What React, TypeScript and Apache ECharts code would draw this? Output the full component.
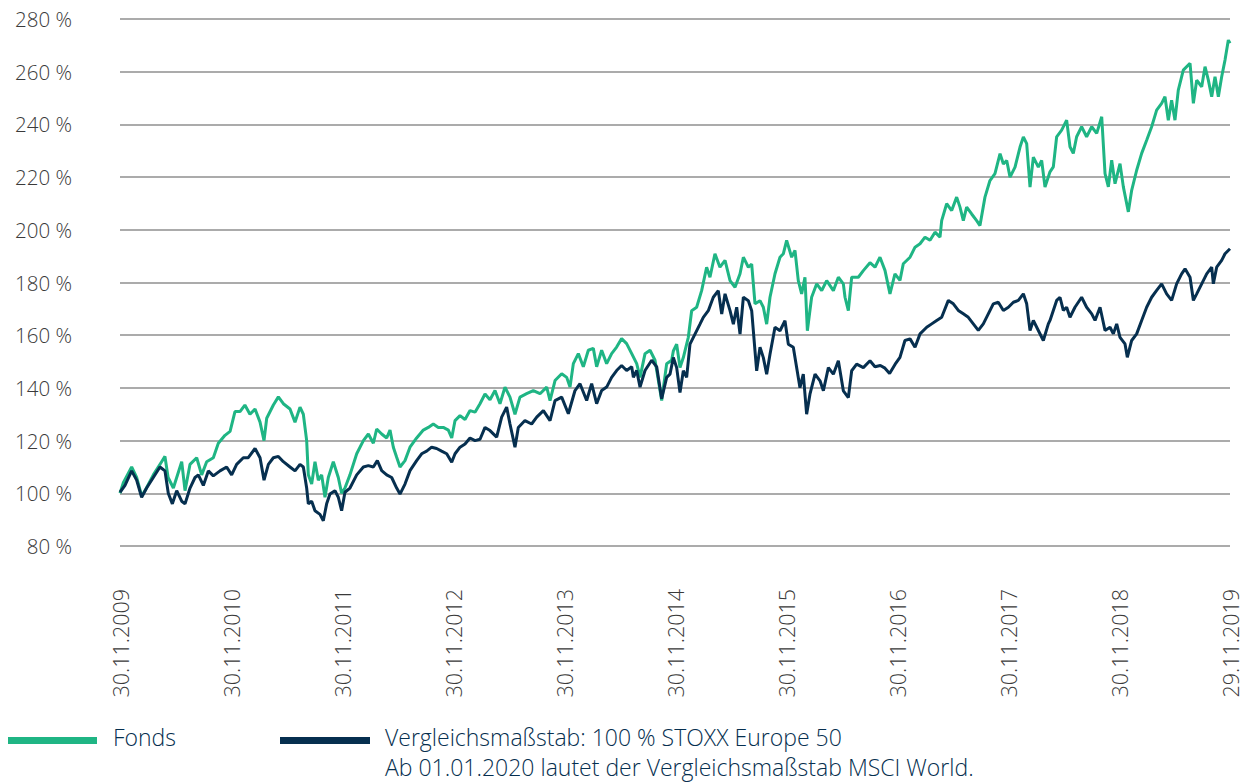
import React, { useEffect, useRef } from "react";
import * as echarts from "echarts";

// x = months since 30.11.2009, y = indexed value in %
const fondsData: [number, number][] = [
  [0, 100], [0.36, 104], [1.26, 110], [1.8, 106], [2.34, 99], [2.7, 101], [3.6, 107], [4.5, 112],
  [4.86, 114], [5.2, 106], [5.77, 102], [6.67, 112], [7.03, 101], [7.57, 111], [8.29, 113.5],
  [8.83, 107], [9.37, 112], [10.09, 113.5], [10.63, 119], [11.35, 122], [11.9, 123.5], [12.43, 131],
  [12.97, 131], [13.5, 133.5], [14.05, 130], [14.6, 132], [15.14, 127], [15.57, 120], [15.86, 128.5],
  [16.58, 133.5], [17.12, 136.6], [17.66, 134], [18.38, 132], [18.92, 127], [19.46, 132.7],
  [19.82, 130], [20.18, 120], [20.36, 107], [20.72, 103.5], [21.08, 112], [21.44, 105], [21.8, 107],
  [22.16, 98.5], [22.52, 106], [23.06, 112], [23.6, 106], [23.96, 100], [24.32, 102], [24.86, 107],
  [25.59, 115], [26.31, 120], [26.85, 122.5], [27.39, 119], [27.75, 124.4], [28.29, 122.5],
  [28.83, 121], [29.19, 124], [29.55, 117.5], [29.91, 113.7], [30.27, 110], [30.81, 112.4],
  [31.35, 117.5], [32.07, 121], [32.79, 124], [33.33, 125], [33.87, 126.3], [34.41, 125],
  [34.95, 125], [35.5, 124], [35.86, 121], [36.22, 127.6], [36.76, 129.5], [37.3, 128],
  [37.84, 131.4], [38.38, 130.8], [38.92, 134], [39.46, 137.7], [40, 135.5], [40.54, 139],
  [41.08, 134], [41.62, 140.3], [42.16, 136.5], [42.7, 130], [43.24, 136.5], [43.96, 137.8],
  [44.68, 139], [45.41, 137.8], [46.13, 140.3], [46.49, 135.2], [47.03, 142.8], [47.75, 145.4],
  [48.29, 144], [48.65, 140.3], [49.01, 149.2], [49.55, 153], [50.09, 148], [50.63, 154.3],
  [51.17, 155], [51.53, 148], [52.07, 154.3], [52.61, 149.2], [53.15, 153], [53.69, 155.5],
  [54.23, 158.7], [54.77, 156.8], [55.32, 153], [55.86, 149.2], [56.22, 144], [56.76, 153],
  [57.3, 154.3], [57.84, 150.5], [58.56, 135.2], [59.1, 149.2], [59.64, 150.5], [59.82, 154],
  [60.18, 156.6], [60.54, 147.7], [60.9, 151.5], [61.44, 159.2], [61.8, 169.3], [62.34, 170.6],
  [62.88, 176.9], [63.42, 185.8], [63.78, 182], [64.32, 190.9], [64.86, 185.8], [65.41, 188.4],
  [65.95, 180.7], [66.49, 178.2], [67.03, 183.3], [67.39, 189.6], [67.93, 185.8], [68.29, 187],
  [68.65, 171.9], [69.19, 173.1], [69.55, 170.6], [69.91, 164.2], [70.27, 174.4], [70.81, 183.3],
  [71.35, 189.6], [71.71, 190.9], [72.07, 196], [72.61, 189.6], [72.97, 192.2], [73.33, 180.7],
  [73.69, 175.7], [74.05, 182], [74.31, 161.7], [74.77, 174.4], [75.32, 179.5], [75.86, 176.9],
  [76.4, 180.7], [77.12, 176.9], [77.66, 182], [78.2, 179.5], [78.38, 174.4], [78.74, 169.3],
  [79.1, 182], [79.82, 182], [80.36, 184.5], [81.08, 187.5], [81.62, 185.8], [82.16, 189.6],
  [82.7, 184.6], [83.24, 175.7], [83.78, 183.3], [84.32, 180.8], [84.68, 187.1], [85.41, 189.6],
  [85.95, 193.4], [86.49, 194.7], [87.03, 197.2], [87.57, 196], [88.11, 199.1], [88.65, 197.2],
  [88.83, 203.5], [89.37, 209.9], [89.91, 207.3], [90.45, 212.4], [90.81, 208.6], [91.17, 203.5],
  [91.53, 208.6], [92.07, 206], [92.61, 203.5], [92.97, 201.6], [93.51, 212.4], [94.05, 218.7],
  [94.59, 221.3], [95.14, 228.9], [95.5, 225], [95.86, 226.3], [96.22, 220], [96.76, 223.8],
  [97.3, 231.4], [97.66, 235.2], [98.02, 232.7], [98.38, 216.2], [98.74, 227.6], [99.28, 223.8],
  [99.64, 226.3], [100, 216.2], [100.54, 222], [100.9, 223.9], [101.26, 235.3], [101.8, 237.8],
  [102.34, 241.6], [102.7, 231.5], [103.06, 229], [103.42, 235.3], [103.96, 239.1], [104.5, 235.3],
  [105.05, 239.1], [105.59, 236.6], [106.13, 242.9], [106.49, 221.3], [106.85, 216.3],
  [107.21, 226.4], [107.57, 217.5], [108.11, 225.1], [108.47, 216.3], [109.01, 206.8], [109.37, 215],
  [109.91, 222.6], [110.45, 229], [110.99, 234], [111.53, 239.1], [112.07, 245.4], [112.61, 248],
  [112.97, 250.5], [113.33, 241.6], [113.69, 249.2], [114.05, 241.6], [114.41, 253], [114.95, 260.6],
  [115.68, 263.2], [116.04, 248], [116.4, 256.8], [116.94, 254.3], [117.3, 261.9], [117.66, 256.8],
  [118.02, 250.5], [118.38, 258.1], [118.74, 250.5], [119.1, 258.1], [119.46, 264.4], [119.82, 272],
  [120, 270.8]
];

const benchData: [number, number][] = [
  [0, 100.4], [0.54, 103], [1.26, 108.5], [1.8, 105], [2.34, 98.5], [2.88, 102], [3.6, 106],
  [4.32, 110], [4.86, 108.5], [5.22, 100], [5.66, 96], [6.13, 101], [6.67, 97], [7.03, 96],
  [7.57, 102], [8.11, 106], [8.47, 107], [9.01, 103], [9.55, 108.5], [10.09, 106.6], [10.81, 108.5],
  [11.53, 110], [12.07, 107], [12.61, 111], [13.33, 113.5], [13.87, 113.5], [14.6, 117],
  [15.14, 113.5], [15.57, 105], [16.04, 111], [16.58, 113.5], [17.12, 114], [17.66, 112],
  [18.38, 110], [18.92, 108.5], [19.46, 111], [19.82, 110], [20.18, 102], [20.36, 96], [20.72, 97],
  [21.08, 93.4], [21.62, 92], [21.98, 89.6], [22.34, 96], [22.7, 99.7], [23.24, 101], [23.6, 98.5],
  [23.96, 93.4], [24.32, 100.4], [24.86, 102], [25.59, 107], [26.31, 110], [26.85, 110.5],
  [27.39, 110], [27.82, 112.4], [28.29, 108.6], [28.83, 107], [29.37, 106], [29.91, 102],
  [30.27, 99.7], [30.81, 103.5], [31.35, 108.6], [32.07, 112.4], [32.61, 115], [33.15, 116],
  [33.69, 117.5], [34.23, 117], [34.77, 116], [35.32, 115], [35.86, 111.8], [36.22, 115],
  [36.76, 117.5], [37.3, 118.7], [37.84, 121], [38.38, 120], [38.92, 120.5], [39.46, 125],
  [40, 123.8], [40.72, 121.3], [41.26, 128.9], [41.8, 132.7], [42.16, 126.3], [42.7, 117.5],
  [43.06, 125], [43.78, 127.6], [44.5, 126.3], [45.05, 128.9], [45.77, 131.4], [46.49, 127.6],
  [47.03, 135.2], [47.75, 136.5], [48.47, 130.2], [49.19, 139], [49.73, 141.6], [50.45, 135.2],
  [50.99, 141.6], [51.53, 134], [52.07, 139], [52.61, 140.3], [53.15, 144], [53.69, 146.6],
  [54.23, 148.5], [54.77, 146.6], [55.32, 148], [55.5, 144], [55.86, 146.6], [56.22, 140.3],
  [56.76, 146.6], [57.48, 150.5], [58.02, 148], [58.56, 135.9], [59.1, 144], [59.46, 145.2],
  [59.82, 151.5], [60.18, 147.7], [60.54, 138.2], [60.9, 146.5], [61.26, 144], [61.62, 156.6],
  [62.16, 160.4], [62.7, 164.2], [63.06, 166.8], [63.6, 169.3], [64.14, 174.4], [64.68, 176.9],
  [65.05, 168], [65.41, 175.7], [65.95, 169.3], [66.31, 164.2], [66.67, 170.6], [67.03, 160.4],
  [67.39, 174.4], [67.93, 173.1], [68.29, 169.3], [68.65, 154], [68.83, 146.5], [69.19, 155.4],
  [69.55, 151.5], [69.91, 145.2], [70.27, 152.8], [70.81, 163], [71.35, 161.7], [71.89, 165.5],
  [72.25, 156.6], [72.79, 155.4], [73.15, 147.7], [73.51, 140.1], [73.87, 145.2], [74.23, 130],
  [74.59, 137.6], [75.14, 145.2], [75.68, 142.7], [76.04, 138.9], [76.58, 147.7], [77.12, 145.2],
  [77.66, 150.3], [78.2, 138.9], [78.74, 136.3], [79.1, 146.5], [79.64, 149], [80.36, 147.7],
  [81.08, 150.3], [81.62, 148], [82.2, 148.5], [82.7, 147.5], [83.2, 145.5], [83.8, 149],
  [84.32, 151.6], [84.86, 158], [85.41, 158.6], [85.95, 155.4], [86.49, 160.5], [87.21, 163],
  [87.75, 164.3], [88.29, 165.6], [88.83, 166.8], [89.55, 173.2], [90.09, 171.9], [90.63, 169.4],
  [91.17, 168.1], [91.71, 166.8], [92.25, 164.3], [92.79, 161.8], [93.33, 164.3], [93.87, 168.1],
  [94.41, 171.9], [94.95, 172.5], [95.5, 169.4], [96.04, 170.6], [96.58, 172.5], [97.12, 173.2],
  [97.66, 175.7], [98.02, 171.9], [98.38, 161.8], [98.74, 165.6], [99.28, 161.8], [99.82, 158],
  [100.36, 164.3], [100.54, 165.6], [101.26, 173.2], [101.62, 174.4], [101.98, 169.4],
  [102.34, 170.6], [102.7, 166.8], [103.24, 170.6], [103.96, 174.4], [104.5, 170.6], [105.05, 168.1],
  [105.41, 165.6], [105.95, 170.6], [106.49, 161.8], [107.03, 163], [107.39, 160.5], [107.75, 164.3],
  [108.11, 159.2], [108.65, 156.7], [108.9, 151.6], [109.37, 158], [109.91, 160.5], [110.45, 165.6],
  [110.99, 170.6], [111.53, 174.4], [112.07, 177], [112.61, 179.5], [113.15, 175.7], [113.69, 173.2],
  [114.23, 179.5], [114.77, 183.3], [115.14, 185.2], [115.68, 182], [116.04, 173.2], [116.4, 175.7],
  [116.94, 179.5], [117.48, 183.3], [118.02, 185.8], [118.2, 179.5], [118.56, 185.8], [119.1, 188.4],
  [119.46, 190.9], [120, 192.8]
];

const tickLabels = [
  "30.11.2009", "30.11.2010", "30.11.2011", "30.11.2012", "30.11.2013", "30.11.2014",
  "30.11.2015", "30.11.2016", "30.11.2017", "30.11.2018", "29.11.2019"
];

const seriesNames = ["Fonds", "Vergleichsmaßstab: 100 % STOXX Europe 50"];
const noteText = "Ab 01.01.2020 lautet der Vergleichsmaßstab MSCI World.";

const GREEN = "#1fb584";
const NAVY = "#062f4f";
const FONT = "'Open Sans', 'Noto Sans', sans-serif";

export default function App() {
  const ref = useRef<HTMLDivElement>(null);
  useEffect(() => {
    if (!ref.current) return;
    const chart = echarts.init(ref.current, undefined, { renderer: "svg" });
    const legendText = (text: string, x: number, y: number) => ({
      type: "text",
      x,
      y,
      style: {
        text,
        fill: NAVY,
        fontFamily: FONT,
        fontSize: 23,
        fontWeight: 300,
        lineHeight: 25,
        verticalAlign: "middle",
      },
    });
    chart.setOption({
      animation: false,
      backgroundColor: "#ffffff",
      textStyle: { fontFamily: FONT },
      grid: { left: 120, right: 16, top: 19, bottom: 237, containLabel: false },
      xAxis: {
        type: "value",
        min: 0,
        max: 120,
        interval: 12,
        axisLine: { show: false },
        axisTick: { show: false },
        splitLine: { show: false },
        axisLabel: {
          rotate: 90,
          margin: 43,
          color: "#3a3a3a",
          fontSize: 21.5,
          fontWeight: 300,
          fontFamily: FONT,
          formatter: (v: number) => tickLabels[Math.round(v / 12)] ?? "",
        },
      },
      yAxis: {
        type: "value",
        min: 80,
        max: 280,
        interval: 20,
        axisLine: { show: false },
        axisTick: { show: false },
        splitLine: { lineStyle: { color: "#ababab", width: 2 } },
        axisLabel: {
          margin: 48,
          color: "#3a3a3a",
          fontSize: 20.5,
          fontWeight: 300,
          fontFamily: FONT,
          formatter: "{value} %",
        },
      },
      series: [
        {
          name: seriesNames[0],
          type: "line",
          data: fondsData,
          showSymbol: false,
          lineStyle: { color: GREEN, width: 3 },
          itemStyle: { color: GREEN },
        },
        {
          name: seriesNames[1],
          type: "line",
          data: benchData,
          showSymbol: false,
          lineStyle: { color: NAVY, width: 3 },
          itemStyle: { color: NAVY },
        },
      ],
      graphic: [
        { type: "rect", left: 8, top: 737, shape: { width: 89, height: 7 }, style: { fill: GREEN } },
        legendText(seriesNames[0], 113, 737),
        { type: "rect", left: 280, top: 737, shape: { width: 90, height: 7 }, style: { fill: NAVY } },
        legendText(seriesNames[1], 385, 737),
        legendText(noteText, 385, 767),
      ],
    });
    return () => chart.dispose();
  }, []);
  return (
    <div
      ref={ref}
      style={{ position: "fixed", left: 0, top: 0, width: 1246, height: 783, background: "#fff" }}
    />
  );
}
